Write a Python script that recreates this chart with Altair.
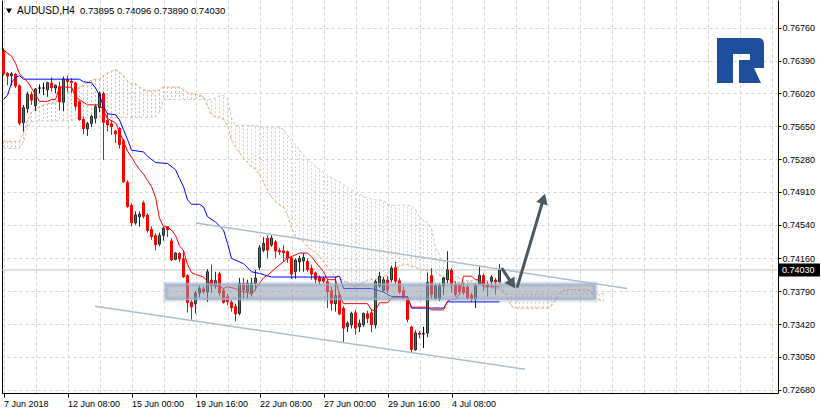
import json
import numpy as np
import pandas as pd
import altair as alt

# ---------------- values (AUDUSD H4) ----------------
opens = [0.7650, 0.7625, 0.7622, 0.7624, 0.7611, 0.7569, 0.7585, 0.7601, 0.7588, 0.7607,
         0.7607, 0.7606, 0.7614, 0.7608, 0.7610, 0.7592, 0.7618, 0.7616, 0.7614, 0.7593,
         0.7573, 0.7562, 0.7568, 0.7574, 0.7586, 0.7602, 0.7572, 0.7568, 0.7560, 0.7563,
         0.7549, 0.7502, 0.7476, 0.7456, 0.7463, 0.7479, 0.7465, 0.7449, 0.7442, 0.7432,
         0.7442, 0.7452, 0.7436, 0.7415, 0.7422, 0.7416, 0.7397, 0.7367, 0.7365, 0.7377,
         0.7382, 0.7378, 0.7392, 0.7386, 0.7399, 0.7380, 0.7373, 0.7367, 0.7362, 0.7354,
         0.7388, 0.7379, 0.7377, 0.7388, 0.7406, 0.7425, 0.7439, 0.7431, 0.7435, 0.7425,
         0.7425, 0.7424, 0.7417, 0.7401, 0.7412, 0.7413, 0.7413, 0.7405, 0.7400, 0.7395,
         0.7394, 0.7390, 0.7380, 0.7365, 0.7375, 0.7360, 0.7339, 0.7341, 0.7355, 0.7339,
         0.7341, 0.7354, 0.7355, 0.7341, 0.7385, 0.7380, 0.7392, 0.7392, 0.7406, 0.7391,
         0.7380, 0.7371, 0.7339, 0.7313, 0.7332, 0.7332, 0.7332, 0.7397, 0.7371, 0.7370,
         0.7385, 0.7392, 0.7403, 0.7387, 0.7386, 0.7384, 0.7384, 0.7375, 0.7370, 0.7387,
         0.7397, 0.7387, 0.7390, 0.7392, 0.73895]
highs = [0.7653, 0.7626, 0.7626, 0.7625, 0.7612, 0.7589, 0.7604, 0.7604, 0.7608, 0.7612,
         0.7614, 0.7615, 0.7620, 0.7612, 0.7615, 0.7621, 0.7622, 0.7619, 0.7615, 0.7594,
         0.7576, 0.7570, 0.7578, 0.7589, 0.7604, 0.7604, 0.7580, 0.7572, 0.7561, 0.7564,
         0.7551, 0.7504, 0.7478, 0.7469, 0.7469, 0.7481, 0.7467, 0.7452, 0.7444, 0.7445,
         0.7452, 0.7452, 0.7439, 0.7423, 0.7423, 0.7425, 0.7398, 0.7369, 0.7379, 0.7385,
         0.7384, 0.7404, 0.7409, 0.7401, 0.7401, 0.7382, 0.7376, 0.7369, 0.7365, 0.7394,
         0.7394, 0.7392, 0.7394, 0.7403, 0.7431, 0.7440, 0.7442, 0.7442, 0.7437, 0.7428,
         0.7431, 0.7425, 0.7419, 0.7416, 0.7419, 0.7422, 0.7416, 0.7409, 0.7401, 0.7397,
         0.7395, 0.7393, 0.7384, 0.7395, 0.7378, 0.7362, 0.7345, 0.7356, 0.7358, 0.7347,
         0.7355, 0.7357, 0.7358, 0.7392, 0.7401, 0.7395, 0.7396, 0.7408, 0.7412, 0.7394,
         0.7384, 0.7373, 0.7340, 0.7335, 0.7334, 0.7339, 0.7400, 0.7405, 0.7388, 0.7388,
         0.7395, 0.7424, 0.7405, 0.7390, 0.7388, 0.7388, 0.7386, 0.7377, 0.7388, 0.7407,
         0.7399, 0.7390, 0.7397, 0.7394, 0.74096]
lows = [0.7622, 0.7611, 0.7611, 0.7608, 0.7566, 0.7559, 0.7580, 0.7589, 0.7582, 0.7602,
        0.7600, 0.7598, 0.7604, 0.7602, 0.7583, 0.7582, 0.7604, 0.7602, 0.7583, 0.7571,
        0.7556, 0.7554, 0.7564, 0.7568, 0.7581, 0.7527, 0.7559, 0.7555, 0.7546, 0.7540,
        0.7501, 0.7473, 0.7452, 0.7454, 0.7452, 0.7461, 0.7445, 0.7437, 0.7425, 0.7430,
        0.7436, 0.7440, 0.7413, 0.7414, 0.7412, 0.7394, 0.7355, 0.7347, 0.7354, 0.7372,
        0.7376, 0.7367, 0.7377, 0.7382, 0.7374, 0.7365, 0.7363, 0.7356, 0.7345, 0.7352,
        0.7371, 0.7371, 0.7373, 0.7380, 0.7403, 0.7423, 0.7416, 0.7429, 0.7416, 0.7420,
        0.7412, 0.7411, 0.7393, 0.7393, 0.7401, 0.7401, 0.7401, 0.7392, 0.7388, 0.7386,
        0.7388, 0.7360, 0.7357, 0.7356, 0.7352, 0.7321, 0.7333, 0.7337, 0.7330, 0.7333,
        0.7339, 0.7343, 0.7333, 0.7337, 0.7383, 0.7378, 0.7377, 0.7389, 0.7387, 0.7376,
        0.7369, 0.7344, 0.7310, 0.7312, 0.7326, 0.7315, 0.7327, 0.7371, 0.7369, 0.7368,
        0.7375, 0.7388, 0.7377, 0.7373, 0.7375, 0.7375, 0.7369, 0.7367, 0.7360, 0.7386,
        0.7380, 0.7373, 0.7384, 0.7375, 0.73890]
closes = [0.7624, 0.7621, 0.7624, 0.7610, 0.7568, 0.7586, 0.7601, 0.7594, 0.7607, 0.7608,
          0.7608, 0.7614, 0.7608, 0.7611, 0.7592, 0.7618, 0.7615, 0.7614, 0.7587, 0.7572,
          0.7562, 0.7568, 0.7576, 0.7587, 0.7602, 0.7569, 0.7566, 0.7564, 0.7556, 0.7544,
          0.7502, 0.7474, 0.7456, 0.7465, 0.7466, 0.7463, 0.7447, 0.7440, 0.7431, 0.7442,
          0.7450, 0.7448, 0.7414, 0.7422, 0.7415, 0.7395, 0.7366, 0.7361, 0.7377, 0.7382,
          0.7378, 0.7401, 0.7385, 0.7391, 0.7377, 0.7366, 0.7367, 0.7360, 0.7353, 0.7388,
          0.7380, 0.7388, 0.7388, 0.7394, 0.7428, 0.7433, 0.7425, 0.7439, 0.7424, 0.7423,
          0.7422, 0.7416, 0.7398, 0.7414, 0.7416, 0.7417, 0.7403, 0.7398, 0.7392, 0.7390,
          0.7390, 0.7378, 0.7365, 0.7374, 0.7353, 0.7337, 0.7343, 0.7354, 0.7337, 0.7343,
          0.7354, 0.7348, 0.7341, 0.7390, 0.7396, 0.7392, 0.7380, 0.7405, 0.7390, 0.7378,
          0.7371, 0.7347, 0.7313, 0.7332, 0.7330, 0.7331, 0.7389, 0.7375, 0.7385, 0.7385,
          0.7394, 0.7403, 0.7386, 0.7375, 0.7378, 0.7377, 0.7371, 0.7370, 0.7385, 0.7397,
          0.7386, 0.7385, 0.7395, 0.7389, 0.74030]

# Tenkan-sen (red) and Kijun-sen (blue): bar index / value at each vertex
tenkan_idx = [0, 2, 3, 4, 6, 7, 9, 11, 12, 13,
              14, 17, 18, 19, 21, 24, 25, 26, 27, 28,
              29, 30, 31, 32, 33, 34, 35, 36, 37, 38,
              39, 40, 41, 42, 43, 44, 45, 46, 47, 48,
              50, 51, 52, 54, 55, 56, 58, 60, 61, 62,
              64, 65, 66, 68, 71, 74, 76, 77, 78, 80,
              81, 83, 84, 85, 91, 92, 93, 94, 96, 97,
              98, 101, 102, 106, 107, 110, 111, 112, 113, 114,
              115, 117, 118, 119, 120, 124]
tenkan_val = [0.7651, 0.7644, 0.7636, 0.7624, 0.7615, 0.7608, 0.7593, 0.7593, 0.7595, 0.7595,
              0.7609, 0.7609, 0.7598, 0.7595, 0.7589, 0.7589, 0.7583, 0.7574, 0.7571, 0.7569,
              0.7559, 0.7548, 0.7537, 0.7530, 0.7523, 0.7516, 0.7511, 0.7504, 0.7497, 0.7485,
              0.7461, 0.7452, 0.7451, 0.7448, 0.7442, 0.7430, 0.7425, 0.7409, 0.7400, 0.7398,
              0.7395, 0.7390, 0.7387, 0.7384, 0.7382, 0.7384, 0.7382, 0.7378, 0.7378, 0.7375,
              0.7388, 0.7394, 0.7397, 0.7405, 0.7416, 0.7422, 0.7422, 0.7418, 0.7412, 0.7401,
              0.7392, 0.7392, 0.7375, 0.7365, 0.7365, 0.7358, 0.7357, 0.7366, 0.7366, 0.7371,
              0.7372, 0.7372, 0.7361, 0.7361, 0.7358, 0.7358, 0.7368, 0.7370, 0.7370, 0.7376,
              0.7396, 0.7396, 0.7392, 0.7392, 0.7384, 0.7384]
kijun_idx = [0, 1, 2, 3, 4, 5, 19, 20, 22, 23,
             24, 25, 26, 28, 29, 30, 31, 32, 35, 36,
             38, 41, 43, 44, 45, 46, 47, 49, 50, 51,
             53, 55, 56, 57, 59, 60, 62, 64, 67, 83,
             84, 85, 92, 95, 97, 101, 102, 110, 111, 124]
kijun_val = [0.7595, 0.7600, 0.7614, 0.7620, 0.7622, 0.7618, 0.7618, 0.7615, 0.7614, 0.7608,
             0.7600, 0.7587, 0.7579, 0.7578, 0.7572, 0.7561, 0.7550, 0.7538, 0.7536, 0.7531,
             0.7524, 0.7523, 0.7516, 0.7506, 0.7497, 0.7482, 0.7477, 0.7477, 0.7474, 0.7463,
             0.7457, 0.7448, 0.7433, 0.7416, 0.7412, 0.7410, 0.7401, 0.7399, 0.7395, 0.7395,
             0.7396, 0.7382, 0.7382, 0.7378, 0.7373, 0.7373, 0.7360, 0.7360, 0.7367, 0.7367]

# Senkou span A / B, one value per bar (cloud runs 26 bars past the last candle)
span_a = [0.7548, 0.7548, 0.7548, 0.7548, 0.7548, 0.7557, 0.7572, 0.7581, 0.7585, 0.7587,
          0.7589, 0.7590, 0.7591, 0.7591, 0.7598, 0.7601, 0.7603, 0.7605, 0.7606, 0.7609,
          0.7611, 0.7615, 0.7617, 0.7618, 0.7618, 0.7622, 0.7625, 0.7627, 0.7629, 0.7626,
          0.7622, 0.7616, 0.7613, 0.7613, 0.7609, 0.7606, 0.7605, 0.7605, 0.7605, 0.7606,
          0.7609, 0.7609, 0.7609, 0.7609, 0.7609, 0.7606, 0.7603, 0.7602, 0.7601, 0.7600,
          0.7598, 0.7588, 0.7578, 0.7575, 0.7575, 0.7573, 0.7566, 0.7549, 0.7542, 0.7535,
          0.7529, 0.7524, 0.7519, 0.7517, 0.7510, 0.7502, 0.7493, 0.7485, 0.7480, 0.7476,
          0.7474, 0.7465, 0.7450, 0.7441, 0.7437, 0.7435, 0.7429, 0.7425, 0.7423, 0.7418,
          0.7412, 0.7407, 0.7401, 0.7395, 0.7393, 0.7391, 0.7388, 0.7386, 0.7383, 0.7386,
          0.7389, 0.7391, 0.7392, 0.7392, 0.7394, 0.7396, 0.7398, 0.7401, 0.7404, 0.7407,
          0.7409, 0.7409, 0.7407, 0.7406, 0.7404, 0.7403, 0.7402, 0.7402, 0.7401, 0.7397,
          0.7395, 0.7393, 0.7391, 0.7389, 0.7388, 0.7388, 0.7388, 0.7388, 0.7387, 0.7386,
          0.7386, 0.7385, 0.7383, 0.7382, 0.7381, 0.7380, 0.7370, 0.7362, 0.7360, 0.7360,
          0.7360, 0.7360, 0.7360, 0.7360, 0.7360, 0.7360, 0.7360, 0.7363, 0.7369, 0.7377,
          0.7380, 0.7381, 0.7381, 0.7381, 0.7381, 0.7381, 0.7381, 0.7378, 0.7372, 0.7369,
          0.7368]
span_b = [0.7540, 0.7540, 0.7540, 0.7540, 0.7540, 0.7547, 0.7563, 0.7570, 0.7571, 0.7571,
          0.7571, 0.7571, 0.7571, 0.7571, 0.7571, 0.7571, 0.7571, 0.7571, 0.7574, 0.7575,
          0.7575, 0.7575, 0.7575, 0.7575, 0.7575, 0.7575, 0.7575, 0.7575, 0.7575, 0.7575,
          0.7575, 0.7575, 0.7575, 0.7575, 0.7575, 0.7575, 0.7575, 0.7575, 0.7575, 0.7581,
          0.7595, 0.7595, 0.7595, 0.7595, 0.7595, 0.7595, 0.7595, 0.7595, 0.7595, 0.7595,
          0.7595, 0.7595, 0.7595, 0.7597, 0.7599, 0.7600, 0.7595, 0.7574, 0.7566, 0.7566,
          0.7566, 0.7566, 0.7566, 0.7566, 0.7564, 0.7564, 0.7564, 0.7564, 0.7564, 0.7564,
          0.7561, 0.7555, 0.7549, 0.7544, 0.7538, 0.7533, 0.7527, 0.7524, 0.7520, 0.7516,
          0.7513, 0.7510, 0.7507, 0.7504, 0.7502, 0.7499, 0.7496, 0.7493, 0.7491, 0.7489,
          0.7486, 0.7484, 0.7483, 0.7482, 0.7482, 0.7481, 0.7477, 0.7476, 0.7476, 0.7476,
          0.7476, 0.7476, 0.7475, 0.7471, 0.7463, 0.7459, 0.7456, 0.7450, 0.7428, 0.7420,
          0.7412, 0.7407, 0.7403, 0.7397, 0.7394, 0.7392, 0.7391, 0.7391, 0.7391, 0.7391,
          0.7391, 0.7391, 0.7391, 0.7391, 0.7391, 0.7376, 0.7376, 0.7376, 0.7376, 0.7376,
          0.7376, 0.7376, 0.7376, 0.7376, 0.7376, 0.7376, 0.7376, 0.7376, 0.7376, 0.7376,
          0.7376, 0.7376, 0.7376, 0.7376, 0.7376, 0.7376, 0.7376, 0.7376, 0.7376, 0.7376,
          0.7376]

# Drawn objects: support zone, channel, arrows (bar index / price)
zone_idx = [40.6, 147.9]
zone_price = [0.7370, 0.7387]
channel_i1 = [48.1, 22.9]
channel_p1 = [0.7456, 0.7362]
channel_i2 = [155.9, 130.4]
channel_p2 = [0.7382, 0.7291]
arrow_i1 = [124.55, 128.4]
arrow_p1 = [0.7405, 0.7383]
arrow_i2 = [127.2, 135.0]
arrow_p2 = [0.73872, 0.74832]

# Axes
y_ticks = [0.7268, 0.7305, 0.7342, 0.7379, 0.7416, 0.7454, 0.7491, 0.7528, 0.7565, 0.7602, 0.7639, 0.7676]
x_tick_idx = [0, 16, 32, 48, 64, 80, 96, 112]
x_tick_labels = ["7 Jun 2018", "12 Jun 08:00", "15 Jun 00:00", "19 Jun 16:00",
                 "22 Jun 08:00", "27 Jun 00:00", "29 Jun 16:00", "4 Jul 08:00"]
x_grid_idx = list(range(0, 194, 8))
symbol_text = ["AUDUSD,H4"]
ohlc_text = [" ".join(f"{v:.5f}" for v in (opens[-1], highs[-1], lows[-1], closes[-1]))]
bid_price = [closes[-1]]

# ---------------- chart ----------------
W, H = 776, 393
FONT = "Liberation Sans"
GRID = "#d4d4d4"
xsc = alt.Scale(domain=[-0.375, 193.625], nice=False, zero=False, padding=0)
ysc = alt.Scale(domain=[0.72643, 0.770722], nice=False, zero=False, padding=0)


def X(f, axis=None):
    return alt.X(f, type="quantitative", scale=xsc, axis=axis)


def Y(f, axis=None):
    return alt.Y(f, type="quantitative", scale=ysc, axis=axis)


ax_bottom = alt.Axis(orient="bottom", values=x_tick_idx,
                     labelExpr=json.dumps(x_tick_labels) + "[round(datum.value/16)]",
                     labelAlign="left", labelBaseline="top", labelPadding=2,
                     labelFont=FONT, labelFontSize=9, labelColor="black",
                     tickSize=4, tickColor="black", domainColor="black", grid=False,
                     title=None, labelOverlap=False, labelFlush=False, labelBound=False)
ax_top = alt.Axis(orient="top", values=x_grid_idx, grid=True, gridColor=GRID, gridDash=[3, 3],
                  labels=False, ticks=False, domain=False, title=None)
ax_right = alt.Axis(orient="right", values=y_ticks, format=".5f", grid=True, gridColor=GRID,
                    gridDash=[3, 3], tickSize=3, tickColor="black", domainColor="black",
                    labelPadding=1, labelFont=FONT, labelFontSize=9, labelColor="black",
                    title=None, labelOverlap=False, labelFlush=False, labelBound=False)
ax_left = alt.Axis(orient="left", labels=False, ticks=False, grid=False,
                   domainColor="black", title=None)

candles = pd.DataFrame({"i": list(range(len(opens))), "o": opens, "h": highs, "l": lows, "c": closes})
d = candles["c"] - candles["o"]
candles["kind"] = np.where(d.abs() <= 0.00011, "doji", np.where(d > 0, "bull", "bear"))
cloud = pd.DataFrame({"i": list(range(len(span_a))), "a": span_a, "b": span_b})
tenkan = pd.DataFrame({"i": tenkan_idx, "v": tenkan_val})
kijun = pd.DataFrame({"i": kijun_idx, "v": kijun_val})
zone = pd.DataFrame({"i1": [zone_idx[0]], "i2": [zone_idx[1]], "p1": [zone_price[0]], "p2": [zone_price[1]]})
channel = pd.DataFrame({"i1": channel_i1, "p1": channel_p1, "i2": channel_i2, "p2": channel_p2})
arrows = pd.DataFrame({"i1": arrow_i1, "p1": arrow_p1, "i2": arrow_i2, "p2": arrow_p2})
bid = pd.DataFrame({"p": bid_price, "t": [f"{bid_price[0]:.5f}"]})

hatch = alt.Chart(cloud).mark_rule(strokeDash=[2, 2], strokeWidth=1, opacity=0.8).encode(
    x=X("i", ax_top), y=Y("a", ax_left), y2="b",
    color=alt.condition("datum.a >= datum.b", alt.value("#f4a460"), alt.value("#d8bfd8")))
line_a = alt.Chart(cloud).mark_line(color="#f4a460", strokeWidth=1, strokeDash=[3, 2]).encode(
    x=X("i"), y=Y("a"))
line_b = alt.Chart(cloud).mark_line(color="#d8bfd8", strokeWidth=1, strokeDash=[3, 2]).encode(
    x=X("i"), y=Y("b"))
bidline = alt.Chart(bid).mark_rule(color="#c4c4c4", strokeWidth=1).encode(
    y=Y("p"), x=alt.value(0), x2=alt.value(W))

kind_scale = alt.Scale(domain=["bull", "bear", "doji"], range=["#22302b", "#ff0000", "#000000"])
wicks = alt.Chart(candles).mark_rule(strokeWidth=1).encode(
    x=X("i", ax_bottom), y=Y("l", ax_right), y2="h",
    color=alt.Color("kind:N", scale=kind_scale, legend=None))
bear = alt.Chart(candles).transform_filter("datum.kind == 'bear'").mark_bar(
    size=3, color="#ff0000").encode(x=X("i"), y=Y("o"), y2="c")
bull = alt.Chart(candles).transform_filter("datum.kind == 'bull'").mark_bar(
    size=2, fill="#3c7a60", stroke="#22302b", strokeWidth=1).encode(x=X("i"), y=Y("o"), y2="c")
doji = alt.Chart(candles).transform_filter("datum.kind == 'doji'").transform_calculate(
    x1="datum.i - 0.375", x2="datum.i + 0.375").mark_rule(color="#000000", strokeWidth=1).encode(
    x=X("x1"), x2="x2", y=Y("c"))

kij = alt.Chart(kijun).mark_line(color="#0000ff", strokeWidth=1).encode(x=X("i"), y=Y("v"))
ten = alt.Chart(tenkan).mark_line(color="#ff0000", strokeWidth=1).encode(x=X("i"), y=Y("v"))

zone_glow = alt.Chart(zone).mark_rect(fill=None, stroke="#7f8c9c", strokeWidth=6, strokeOpacity=0.16).encode(
    x=X("i1"), x2="i2", y=Y("p1"), y2="p2")
zone_glow2 = alt.Chart(zone).mark_rect(fill=None, stroke="#7f8c9c", strokeWidth=3, strokeOpacity=0.2).encode(
    x=X("i1"), x2="i2", y=Y("p1"), y2="p2")
zone_box = alt.Chart(zone).mark_rect(fill="#8f9bab", fillOpacity=0.55, stroke="#9dbbea", strokeWidth=1).encode(
    x=X("i1"), x2="i2", y=Y("p1"), y2="p2")

chan = alt.Chart(channel).mark_rule(color="#a9bfd0", strokeWidth=1.5).encode(
    x=X("i1"), x2="i2", y=Y("p1"), y2="p2")
arrow_lines = alt.Chart(arrows).mark_rule(color="#4a5866", strokeWidth=3).encode(
    x=X("i1"), x2="i2", y=Y("p1"), y2="p2")
head_short = alt.Chart(arrows.iloc[[0]]).mark_point(
    shape="triangle-up", size=140, filled=True, color="#4a5866", opacity=1, angle=146).encode(
    x=X("i2"), y=Y("p2"))
head_long = alt.Chart(arrows.iloc[[1]]).mark_point(
    shape="triangle-up", size=140, filled=True, color="#4a5866", opacity=1, angle=17).encode(
    x=X("i2"), y=Y("p2"))

tag_box = alt.Chart(bid).mark_rule(color="#000000", strokeWidth=13).encode(
    y=Y("p"), x=alt.value(777), x2=alt.value(818))
tag_text = alt.Chart(bid).mark_text(color="white", font=FONT, fontSize=9, align="left",
                                    baseline="middle").encode(
    y=Y("p"), x=alt.value(780), text="t:N")

tri = alt.Chart(pd.DataFrame({"k": [0]})).mark_point(
    shape="triangle-down", size=36, filled=True, color="black", opacity=1).encode(
    x=alt.value(7), y=alt.value(11))
title1 = alt.Chart(pd.DataFrame({"t": symbol_text})).mark_text(
    font=FONT, fontSize=10, align="left", baseline="alphabetic", color="black").encode(
    x=alt.value(15), y=alt.value(14), text="t:N")
title2 = alt.Chart(pd.DataFrame({"t": ohlc_text})).mark_text(
    font=FONT, fontSize=9.5, align="left", baseline="alphabetic", color="black").encode(
    x=alt.value(78), y=alt.value(14), text="t:N")

LOGO = ("M-1,-0.957 L0.745,-0.957 Q1,-0.957 1,-0.702 L1,0.319 L0.574,0.319 L0.872,0.957 "
        "L-0.064,0.957 L-0.064,-0.021 L0.404,-0.021 L0.404,-0.277 L-0.319,-0.277 "
        "L-0.319,0.957 L-1,0.957 Z")
logo = alt.Chart(pd.DataFrame({"k": [0]})).mark_point(
    shape=LOGO, size=2209, filled=True, fill="#1f4f9c", strokeWidth=0, opacity=1).encode(
    x=alt.value(738.5), y=alt.value(60.5))

chart = alt.layer(
    hatch, line_a, line_b, bidline, wicks, bear, bull, doji, kij, ten,
    zone_glow, zone_glow2, zone_box, chan, arrow_lines, head_short, head_long,
    tag_box, tag_text, tri, title1, title2, logo,
).resolve_axis(x="independent", y="independent").properties(
    width=W, height=H,
    autosize=alt.AutoSizeParams(type="none"),
    padding={"left": 2, "top": 0, "right": 43, "bottom": 21},
    background="white",
).configure_view(stroke=None)

chart.save("out.html", embed_options={"renderer": "svg", "actions": False})
